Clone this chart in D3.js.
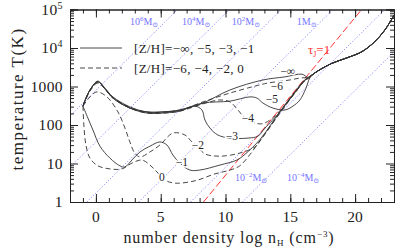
<!DOCTYPE html>
<html><head><meta charset="utf-8">
<script src="https://cdn.jsdelivr.net/npm/d3@7/dist/d3.min.js"></script>
<style>
body{margin:0;background:#fff}
svg{display:block}
text{font-family:"Liberation Serif","DejaVu Serif",serif;fill:#222}
</style></head>
<body><svg id="c" width="405" height="249"></svg>
<script>
// ---------------- data ----------------
const xDomain = [-2, 23];          // log n_H
const yDomain = [1, 1e5];          // T (K)
const xTickLabels = [0, 5, 10, 15, 20];
const yTickLabels = [["1",""],["10",""],["100",""],["1000",""],["10","4"],["10","5"]];

// high density common track (log n, log T)
const tailCommon = [[16.8,3.33],[17.2,3.42],[18.2,3.6],[19.5,3.76],[20.5,3.9],[21.5,4.16],[22.3,4.47],[23.0,4.85]];

const zNinf = [[-1,2.49],[-0.46,2.91],[0.15,3.14],[0.69,2.96],[1.31,2.73],[2.62,2.47],[3.94,2.34],[5.17,2.34],[6.48,2.39],[8.26,2.57],[10.34,2.91],[12.89,3.17],[14.58,3.25],[15.9,3.32],[16.36,3.24]];
const zM6 = [[-1,2.49],[-0.46,2.9],[0.15,3.12],[0.69,2.95],[1.31,2.72],[2.62,2.46],[3.94,2.33],[5.17,2.33],[6.48,2.38],[8.26,2.6],[10.34,2.83],[12.27,3.01],[13.27,3.09],[14.97,3.17],[15.74,3.22],[16.3,3.24]];
const zM5 = [[-1,2.49],[-0.46,2.91],[0.15,3.12],[0.69,2.94],[1.31,2.7],[2.62,2.44],[3.94,2.34],[5.17,2.34],[6.48,2.39],[8.26,2.57],[10.34,2.62],[11.88,2.73],[12.42,2.7],[12.89,2.57],[13.66,2.44],[14.58,2.39],[15.2,2.49],[15.74,2.65],[16.2,2.95],[16.5,3.22]];
const zM4 = [[-1,2.49],[-0.46,2.88],[0.15,3.09],[0.69,2.94],[1.31,2.7],[2.62,2.44],[3.94,2.31],[5.17,2.31],[6.48,2.36],[8.26,2.55],[9.57,2.65],[10.34,2.6],[10.96,2.39],[11.42,2.21],[12.04,2.08],[12.8,2.03],[13.43,2.13],[14.04,2.31],[15.35,2.84],[16.1,3.15],[16.5,3.26]];
const zM3 = [[-1,2.49],[-0.46,2.91],[0.15,3.12],[0.69,2.94],[1.31,2.7],[2.62,2.44],[3.94,2.31],[5.17,2.31],[6.48,2.36],[7.64,2.49],[8.18,2.39],[8.41,2.13],[8.8,1.92],[9.41,1.74],[10.34,1.66],[11.73,1.66],[12.5,1.71],[13.04,1.92],[14.2,2.34],[15.35,2.85],[16.1,3.16],[16.5,3.25]];
const zM2 = [[-1,2.49],[-0.46,2.73],[0.08,2.86],[0.85,2.73],[1.7,2.34],[2.24,1.92],[2.62,1.56],[3.0,1.27],[3.4,1.17],[4.17,1.3],[4.94,1.48],[5.94,1.79],[6.87,1.74],[7.41,1.56],[7.87,1.43],[8.41,1.25],[9.57,1.19],[11.1,1.27],[12.27,1.43],[12.8,1.66],[14.2,2.32],[15.35,2.83],[16.1,3.14],[16.5,3.24]];
const zM1 = [[-1,2.49],[-0.62,2.18],[-0.23,1.87],[0.31,1.45],[1.08,1.14],[1.85,0.94],[2.24,0.91],[2.78,1.09],[3.4,1.3],[4.17,1.45],[4.94,1.56],[5.48,1.48],[5.94,1.22],[6.48,1.01],[7.25,0.83],[8.02,0.83],[9.57,0.96],[10.88,1.09],[11.5,1.24],[12.65,1.62],[14.2,2.35],[15.35,2.86],[16.1,3.17],[16.5,3.25]];
const z0 = [[-1,2.49],[-0.93,2.0],[-0.77,1.48],[-0.46,1.14],[0.15,0.94],[1.08,0.86],[2.0,0.86],[2.78,1.01],[3.55,1.09],[4.17,0.96],[4.71,0.78],[5.32,0.57],[6.1,0.49],[7.64,0.55],[9.18,0.73],[10.34,0.83],[11.1,0.94],[12.65,1.58],[14.2,2.31],[15.35,2.83],[16.1,3.15],[16.5,3.24]];

const seriesNames = ["−∞","−6","−5","−4","−3","−2","−1","0"];
const seriesData  = [zNinf, zM6, zM5, zM4, zM3, zM2, zM1, z0];
const seriesDashed = [false, true, false, true, false, true, false, true];
// label anchor (log n, log T) for each curve
const seriesLabelPos = [[14.8,3.4],[13.97,3.02],[13.58,2.67],[11.73,2.18],[10.49,1.71],[7.87,1.48],[6.64,1.04],[5.09,0.65]];

// Jeans mass lines: log n at T = 1 K
const jeansLabels = [["10","6"],["10","4"],["10","2"],["1",""],["10","−2"],["10","−4"]];
const jeansN0 = [-8.7, -4.7, -0.7, 3.3, 7.3, 11.3];
const jeansLabelPos = [[2.62,4.7],[6.64,4.7],[10.49,4.7],[15.5,4.7],[10.73,0.65],[14.74,0.65]];

// tau_J = 1 line (log n, log T)
const tauLine = [[8.3,0],[20.6,5.04]];
const tauLabelPos = [16.36, 3.95];

// ---------------- drawing ----------------
const svg = d3.select("#c");
const L=70, R=394, TOP=9.5, BOT=202;
const x = d3.scaleLinear().domain(xDomain).range([L,R]);
const y = d3.scaleLog().domain(yDomain).range([BOT,TOP]);
const px = d => x(d[0]), py = d => y(Math.pow(10,d[1]));

svg.append("clipPath").attr("id","clip").append("rect")
  .attr("x",L).attr("y",TOP).attr("width",R-L).attr("height",BOT-TOP);
const plot = svg.append("g").attr("clip-path","url(#clip)");

// Jeans lines
const jeansColor = "#7474ff";
jeansN0.forEach(n0=>{
  plot.append("line")
    .attr("x1",x(n0)).attr("y1",y(1))
    .attr("x2",x(n0+15)).attr("y2",y(1e5))
    .attr("stroke",jeansColor).attr("stroke-width",1)
    .attr("stroke-dasharray","1,2");
});
// tau line
plot.append("line")
  .attr("x1",x(tauLine[0][0])).attr("y1",py(tauLine[0]))
  .attr("x2",x(tauLine[1][0])).attr("y2",py(tauLine[1]))
  .attr("stroke","#ff3333").attr("stroke-width",1)
  .attr("stroke-dasharray","7,3");

// curves
const line = d3.line().x(px).y(py).curve(d3.curveCatmullRom.alpha(0.5));
seriesData.forEach((s,i)=>{
  plot.append("path").attr("d",line(s.concat(tailCommon)))
    .attr("fill","none").attr("stroke","#333").attr("stroke-width",0.9)
    .attr("stroke-dasharray",seriesDashed[i]?"5,3":null);
});

// curve labels
seriesNames.forEach((nm,i)=>{
  svg.append("text").attr("x",px(seriesLabelPos[i])).attr("y",py(seriesLabelPos[i])+4)
    .attr("text-anchor","middle").attr("font-size",11.5)
    .attr("stroke","#fff").attr("stroke-width",3).attr("paint-order","stroke")
    .text(nm);
});

// jeans labels
jeansLabels.forEach((lb,i)=>{
  const t = svg.append("text").attr("x",px(jeansLabelPos[i])).attr("y",py(jeansLabelPos[i])+4)
    .attr("font-size",10).style("fill",jeansColor);
  t.append("tspan").text(lb[0]);
  if(lb[1]) t.append("tspan").attr("dy",-4).attr("font-size",7).text(lb[1]);
  t.append("tspan").attr("dy",lb[1]?4:0).text("M");
  t.append("tspan").attr("dy",2).attr("font-size",7).text("⊙");
});

// tau label
const tl = svg.append("text").attr("x",px(tauLabelPos)).attr("y",py(tauLabelPos)+4)
  .attr("font-size",13).style("fill","#ff3333");
tl.append("tspan").text("τ");
tl.append("tspan").attr("dy",3).attr("font-size",8).text("J");
tl.append("tspan").attr("dy",-3).text("=1");

// axes frame and ticks
const majX = d3.range(0,21,5), minX = d3.range(-2,24,1);
const decades = [1,10,100,1000,1e4,1e5];
const minY = [];
for(let d=1; d<1e5; d*=10) for(let k=2;k<10;k++) minY.push(d*k);
const tk = (g)=>g.call(s=>s.select(".domain").attr("stroke","#222")).selectAll("line").attr("stroke","#222");
svg.append("g").attr("transform",`translate(0,${BOT})`).call(d3.axisBottom(x).tickValues(minX).tickSize(-4).tickFormat("")).call(tk);
svg.append("g").attr("transform",`translate(0,${BOT})`).call(d3.axisBottom(x).tickValues(majX).tickSize(-8).tickFormat("")).call(tk);
svg.append("g").attr("transform",`translate(0,${TOP})`).call(d3.axisTop(x).tickValues(minX).tickSize(-4).tickFormat("")).call(tk);
svg.append("g").attr("transform",`translate(0,${TOP})`).call(d3.axisTop(x).tickValues(majX).tickSize(-8).tickFormat("")).call(tk);
svg.append("g").attr("transform",`translate(${L},0)`).call(d3.axisLeft(y).tickValues(minY).tickSize(-4).tickFormat("")).call(tk);
svg.append("g").attr("transform",`translate(${L},0)`).call(d3.axisLeft(y).tickValues(decades).tickSize(-8).tickFormat("")).call(tk);
svg.append("g").attr("transform",`translate(${R},0)`).call(d3.axisRight(y).tickValues(minY).tickSize(-4).tickFormat("")).call(tk);
svg.append("g").attr("transform",`translate(${R},0)`).call(d3.axisRight(y).tickValues(decades).tickSize(-8).tickFormat("")).call(tk);
svg.selectAll(".domain").attr("stroke-width",1);

// tick labels
xTickLabels.forEach(v=>{
  svg.append("text").attr("x",x(v)).attr("y",222).attr("text-anchor","middle").attr("font-size",15.5).text(v);
});
yTickLabels.forEach((lb,i)=>{
  const t = svg.append("text").attr("x",63).attr("y",y(decades[i])+5).attr("text-anchor","end")
    .attr("font-size",15.5).attr("letter-spacing",0.4);
  t.append("tspan").text(lb[0]);
  if(lb[1]) t.append("tspan").attr("dy",-6).attr("font-size",10).text(lb[1]);
});

// axis titles
const xt = svg.append("text").attr("x",229).attr("y",243).attr("text-anchor","middle")
  .attr("font-size",16).attr("letter-spacing",0.9);
xt.append("tspan").text("number density log n");
xt.append("tspan").attr("dy",3).attr("font-size",9).text("H");
xt.append("tspan").attr("dy",-3).text(" (cm");
xt.append("tspan").attr("dy",-6).attr("font-size",9).text("−3");
xt.append("tspan").attr("dy",6).text(")");

svg.append("text").attr("transform","translate(23,99) rotate(-90)").attr("text-anchor","middle")
  .attr("font-size",17).attr("letter-spacing",1.5).text("temperature T(K)");

// legend
const legY = [48, 68];
const legText = ["[Z/H]=−∞, −5, −3, −1", "[Z/H]=−6, −4, −2, 0"];
legY.forEach((ly,i)=>{
  svg.append("line").attr("x1",80).attr("x2",122).attr("y1",ly).attr("y2",ly)
    .attr("stroke","#333").attr("stroke-width",0.9).attr("stroke-dasharray",i?"5,3":null);
  svg.append("text").attr("x",134).attr("y",ly+4.5).attr("font-size",13).attr("letter-spacing",0.3).text(legText[i]);
});
</script></body></html>
